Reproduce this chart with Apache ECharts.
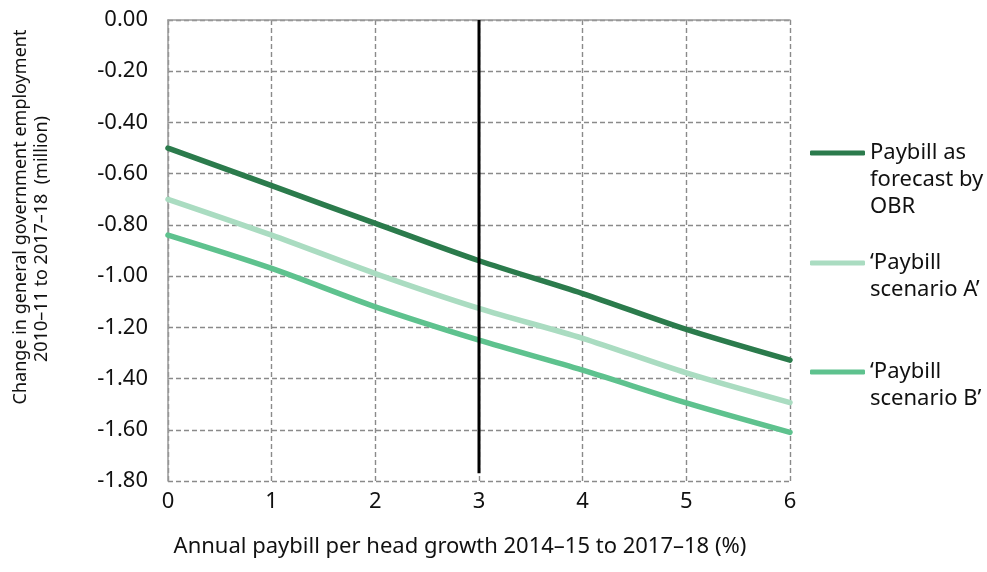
<!DOCTYPE html>
<html><head><meta charset="utf-8">
<script src="https://cdn.jsdelivr.net/npm/echarts@6/dist/echarts.min.js"></script>
<style>html,body{margin:0;padding:0;background:#fff}#c{width:987px;height:572px}</style>
</head><body><div id="c"></div>
<script>
const growth = [0, 1, 2, 3, 4, 5, 6];
const obr = [-0.50, -0.647, -0.794, -0.94, -1.068, -1.208, -1.328];
const scenA = [-0.70, -0.84, -0.99, -1.126, -1.243, -1.378, -1.494];
const scenB = [-0.84, -0.97, -1.12, -1.25, -1.367, -1.495, -1.61];
const seriesNames = ['Paybill as forecast by OBR', '‘Paybill scenario A’', '‘Paybill scenario B’'];
const legendLabels = [['Paybill as', 'forecast by', 'OBR'], ['‘Paybill', 'scenario A’'], ['‘Paybill', 'scenario B’']];
const refLine = [[3, 0], [3, -1.77]];
const yTitle = ['Change in general government employment', '2010–11 to 2017–18  (million)'];
const xTitle = 'Annual paybill per head growth 2014–15 to 2017–18 (%)';

const FONT = '"Noto Sans", "Open Sans", sans-serif';
const colors = ['#2b7b4c', '#aadcc1', '#5ec28e'];
const seriesData = [obr, scenA, scenB];
const legendIconY = [153, 263, 372];
const LH = 27;

const chart = echarts.init(document.getElementById('c'), null, {renderer: 'canvas'});
const dashed = {color: '#8a8a8a', width: 1.4, type: [5, 3]};

const series = seriesData.map((d, i) => ({
  name: seriesNames[i],
  type: 'line',
  data: growth.map((g, j) => [g, d[j]]),
  smooth: 0.3,
  showSymbol: false,
  symbol: 'none',
  lineStyle: {color: colors[i], width: 5.5, cap: 'round'},
  itemStyle: {color: colors[i]},
  z: 3
}));
series.push({
  name: 'ref',
  type: 'line',
  data: refLine,
  showSymbol: false,
  symbol: 'none',
  lineStyle: {color: '#000', width: 3},
  z: 4,
  silent: true
});

const legends = seriesNames.map((n, i) => {
  const lines = legendLabels[i];
  const nl = lines.length;
  const padded = new Array(nl - 1).fill('').concat(lines);
  const textH = padded.length * LH;
  return {
    data: [n],
    left: 810,
    top: legendIconY[i] - textH / 2,
    padding: 0,
    icon: 'roundRect',
    itemWidth: 55,
    itemHeight: 5,
    itemGap: 5,
    formatter: () => padded.join('\n'),
    itemStyle: {color: colors[i]},
    textStyle: {fontFamily: FONT, fontSize: 22, color: '#111', lineHeight: LH},
    selectedMode: false
  };
});

chart.setOption({
  animation: false,
  backgroundColor: '#fff',
  grid: {left: 168, right: 197, top: 20, bottom: 91, containLabel: false},
  legend: legends,
  xAxis: [{
    type: 'value', min: 0, max: 6, interval: 1,
    axisLine: {show: false}, axisTick: {show: false},
    splitLine: {show: true, lineStyle: dashed},
    axisLabel: {fontFamily: FONT, fontSize: 22, color: '#111', margin: 10},
    name: xTitle, nameLocation: 'middle', nameGap: 55,
    nameTextStyle: {fontFamily: FONT, fontSize: 22, color: '#111', padding: [0, 38, 0, 0]}
  }, {
    type: 'value', min: 0, max: 6, position: 'top',
    axisLine: {show: true, lineStyle: {color: '#9a9a9a', width: 1.5}},
    axisTick: {show: false}, axisLabel: {show: false}, splitLine: {show: false}
  }],
  yAxis: {
    type: 'value', min: -1.8, max: 0, interval: 0.2,
    axisLine: {show: true, onZero: false, lineStyle: {color: '#9a9a9a', width: 1.5}},
    axisTick: {show: false},
    splitLine: {show: true, lineStyle: dashed},
    axisLabel: {fontFamily: FONT, fontSize: 22, color: '#111', margin: 20,
      formatter: v => v.toFixed(2)}
  },
  graphic: [
    {type: 'text', x: 21, y: 217, rotation: Math.PI / 2,
      style: {text: yTitle[0], font: '18px ' + FONT, fill: '#111', align: 'center', verticalAlign: 'middle'}},
    {type: 'text', x: 42, y: 239, rotation: Math.PI / 2,
      style: {text: yTitle[1], font: '18px ' + FONT, fill: '#111', align: 'center', verticalAlign: 'middle'}}
  ],
  series: series
});
</script></body></html>
